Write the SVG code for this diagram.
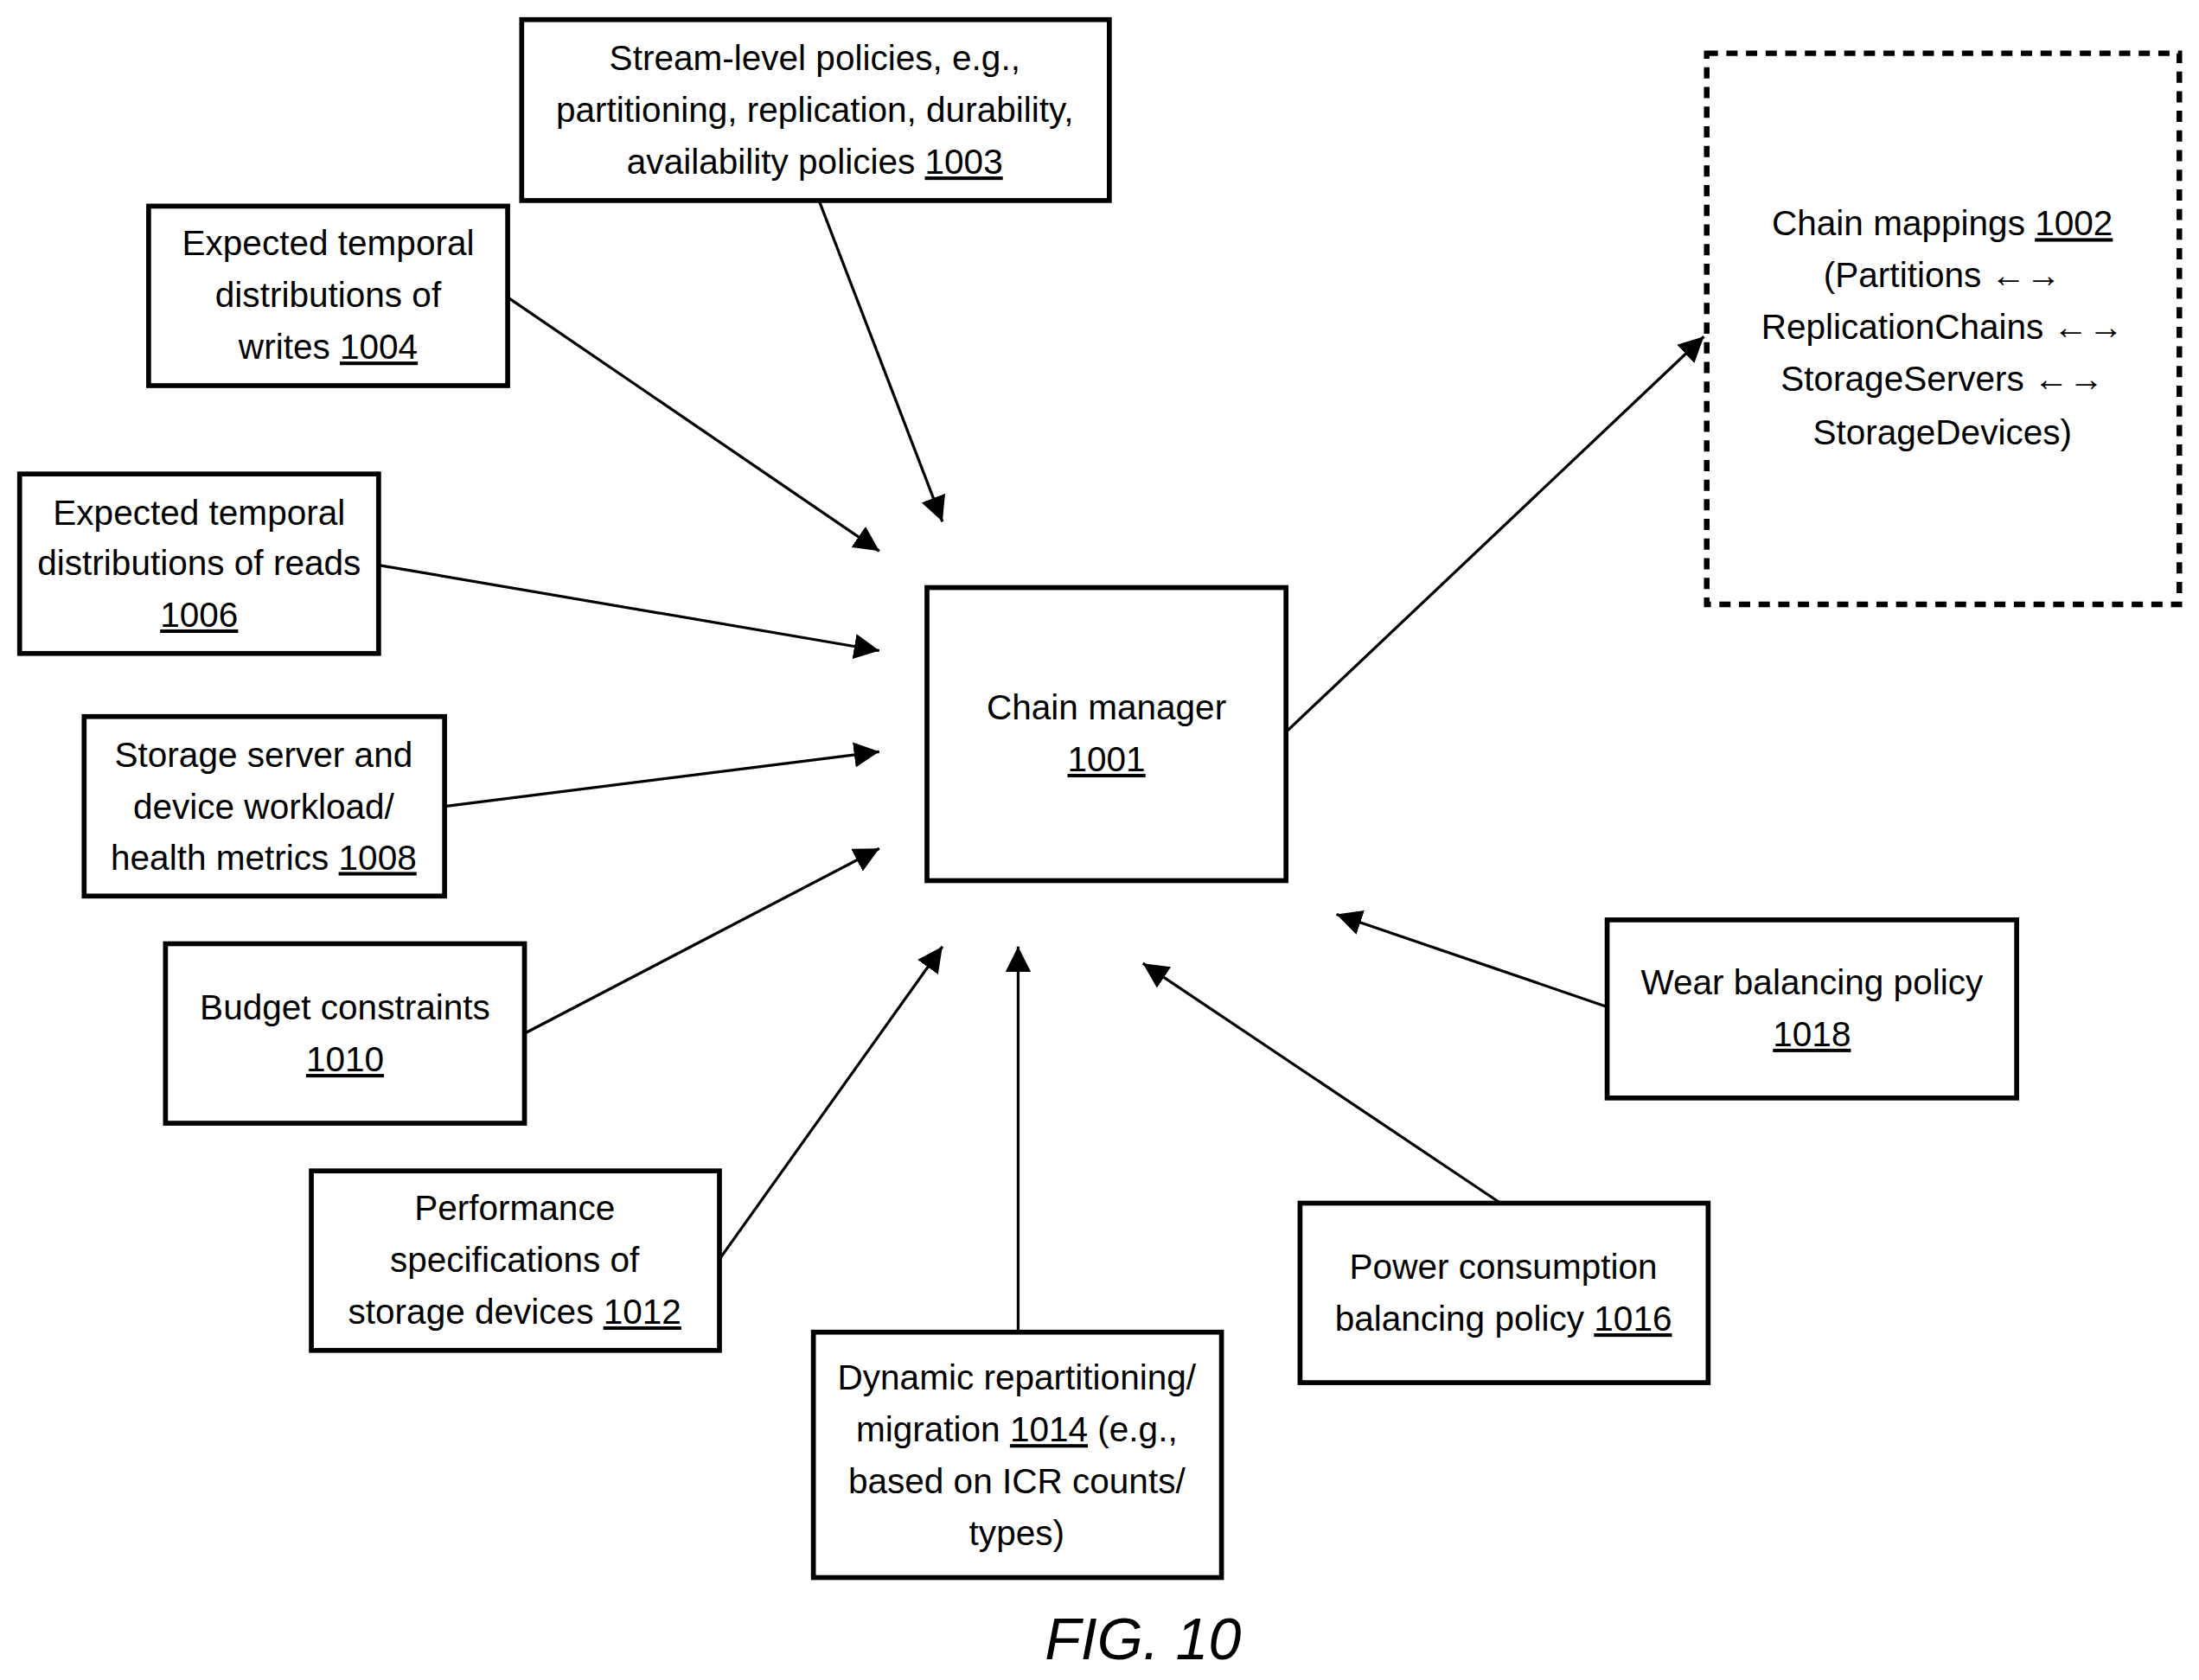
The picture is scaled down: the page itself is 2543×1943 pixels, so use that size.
<svg xmlns="http://www.w3.org/2000/svg" width="2543" height="1943" viewBox="0 0 2543 1943">
<style>
.b{fill:#fff;stroke:#000;stroke-width:3.5}
.d{fill:none;stroke:#000;stroke-width:4;stroke-dasharray:8 6}
text{font-family:"Liberation Sans Narrow","Arial Narrow","Liberation Sans",sans-serif;font-size:25px;text-anchor:middle;fill:#000}
.u{text-decoration:underline}
.c line{stroke:#000;stroke-width:2;marker-end:url(#a)}
</style>
<defs><marker id="a" viewBox="0 0 10 10" refX="10" refY="5" markerWidth="9" markerHeight="9" orient="auto" markerUnits="userSpaceOnUse"><path d="M0,0 L10,5 L0,10 z"/></marker></defs>
<rect width="2543" height="1943" fill="#fff"/>
<g transform="scale(1.6218)">
<defs><marker id="a2" viewBox="0 0 10 10" refX="10" refY="5" markerWidth="18" markerHeight="18" orient="auto" markerUnits="userSpaceOnUse"><path d="M0,0 L10,5 L0,10 z"/></marker></defs>
<g class="c" style="--x:0">
<line x1="584" y1="143" x2="672" y2="372" style="marker-end:url(#a2)"/>
<line x1="362" y1="212" x2="627" y2="393" style="marker-end:url(#a2)"/>
<line x1="270" y1="403" x2="627" y2="464" style="marker-end:url(#a2)"/>
<line x1="317" y1="575" x2="627" y2="536" style="marker-end:url(#a2)"/>
<line x1="374" y1="737" x2="627" y2="605" style="marker-end:url(#a2)"/>
<line x1="513" y1="898" x2="672" y2="675" style="marker-end:url(#a2)"/>
<line x1="726" y1="950" x2="726" y2="675" style="marker-end:url(#a2)"/>
<line x1="1070" y1="858" x2="815" y2="687" style="marker-end:url(#a2)"/>
<line x1="1146" y1="718" x2="953" y2="652" style="marker-end:url(#a2)"/>
<line x1="917" y1="522" x2="1215" y2="240" style="marker-end:url(#a2)"/>
</g>
<g id="n1003"><rect class="b" x="372" y="14" width="419" height="129"/>
<text x="581" y="50">Stream-level policies, e.g.,</text><text x="581" y="87">partitioning, replication, durability,</text><text x="581" y="124">availability policies <tspan class="u">1003</tspan></text></g>
<g id="n1004"><rect class="b" x="106" y="147" width="256" height="128"/>
<text x="234" y="182">Expected temporal</text><text x="234" y="219">distributions of</text><text x="234" y="256">writes <tspan class="u">1004</tspan></text></g>
<g id="n1006"><rect class="b" x="14" y="338" width="256" height="128"/>
<text x="142" y="374">Expected temporal</text><text x="142" y="410">distributions of reads</text><text x="142" y="447" class="u">1006</text></g>
<g id="n1008"><rect class="b" x="60" y="511" width="257" height="128"/>
<text x="188" y="547">Storage server and</text><text x="188" y="584">device workload/</text><text x="188" y="620">health metrics <tspan class="u">1008</tspan></text></g>
<g id="n1010"><rect class="b" x="118" y="673" width="256" height="128"/>
<text x="246" y="727">Budget constraints</text><text x="246" y="764" class="u">1010</text></g>
<g id="n1012"><rect class="b" x="222" y="835" width="291" height="128"/>
<text x="367" y="870">Performance</text><text x="367" y="907">specifications of</text><text x="367" y="944">storage devices <tspan class="u">1012</tspan></text></g>
<g id="n1014"><rect class="b" x="580" y="950" width="291" height="175"/>
<text x="725" y="991">Dynamic repartitioning/</text><text x="725" y="1028">migration <tspan class="u">1014</tspan> (e.g.,</text><text x="725" y="1065">based on ICR counts/</text><text x="725" y="1102">types)</text></g>
<g id="n1016"><rect class="b" x="927" y="858" width="291" height="128"/>
<text x="1072" y="912">Power consumption</text><text x="1072" y="949">balancing policy <tspan class="u">1016</tspan></text></g>
<g id="n1018"><rect class="b" x="1146" y="656" width="292" height="127"/>
<text x="1292" y="709">Wear balancing policy</text><text x="1292" y="746" class="u">1018</text></g>
<g id="n1001"><rect class="b" x="661" y="419" width="256" height="209"/>
<text x="789" y="513">Chain manager</text><text x="789" y="550" class="u">1001</text></g>
<g id="n1002"><rect class="d" x="1217" y="38" width="337" height="393"/>
<text x="1385" y="168">Chain mappings <tspan class="u">1002</tspan></text><text x="1385" y="205">(Partitions ←→</text><text x="1385" y="242">ReplicationChains ←→</text><text x="1385" y="279">StorageServers ←→</text><text x="1385" y="317">StorageDevices)</text></g>
<text x="815" y="1183" style="font-family:'Liberation Sans',sans-serif;font-style:italic;font-size:42px">FIG. 10</text>
</g>
</svg>
